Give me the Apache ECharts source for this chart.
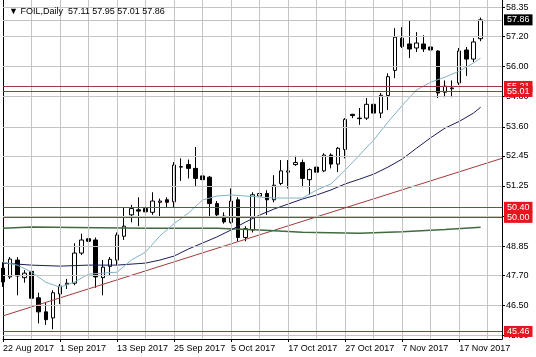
<!DOCTYPE html>
<html><head><meta charset="utf-8">
<script src="https://cdn.jsdelivr.net/npm/echarts@6/dist/echarts.min.js"></script>
<style>html,body{margin:0;padding:0;background:#fff}#c{width:536px;height:357px}</style>
</head><body><div id="c"></div>
<script>
const symbol = 'FOIL', timeframe = 'Daily';
const dates = ['22 Aug 2017','23 Aug 2017','24 Aug 2017','25 Aug 2017','28 Aug 2017','29 Aug 2017','30 Aug 2017','31 Aug 2017',
 '1 Sep 2017','4 Sep 2017','5 Sep 2017','6 Sep 2017','7 Sep 2017','8 Sep 2017','11 Sep 2017','12 Sep 2017',
 '13 Sep 2017','14 Sep 2017','15 Sep 2017','18 Sep 2017','19 Sep 2017','20 Sep 2017','21 Sep 2017','22 Sep 2017',
 '25 Sep 2017','26 Sep 2017','27 Sep 2017','28 Sep 2017','29 Sep 2017','2 Oct 2017','3 Oct 2017','4 Oct 2017',
 '5 Oct 2017','6 Oct 2017','9 Oct 2017','10 Oct 2017','11 Oct 2017','12 Oct 2017','13 Oct 2017','16 Oct 2017',
 '17 Oct 2017','18 Oct 2017','19 Oct 2017','20 Oct 2017','23 Oct 2017','24 Oct 2017','25 Oct 2017','26 Oct 2017',
 '27 Oct 2017','30 Oct 2017','31 Oct 2017','1 Nov 2017','2 Nov 2017','3 Nov 2017','5 Nov 2017','6 Nov 2017',
 '7 Nov 2017','8 Nov 2017','9 Nov 2017','10 Nov 2017','13 Nov 2017','14 Nov 2017','15 Nov 2017','16 Nov 2017',
 '17 Nov 2017','20 Nov 2017','21 Nov 2017','22 Nov 2017'];
const opens  = [47.98,47.63,48.30,47.60,47.85,46.80,46.24,46.00,46.95,47.33,47.38,48.58,49.15,49.10,47.60,48.05,
 48.30,49.25,50.10,50.30,50.35,50.20,50.60,50.70,50.62,52.00,52.10,51.95,51.65,51.60,50.55,50.05,
 49.80,50.70,49.20,49.50,50.85,50.95,50.70,51.35,51.80,52.10,52.18,51.50,52.00,51.85,52.48,52.12,
 52.70,54.10,53.95,53.95,54.50,54.15,54.85,55.85,57.13,56.90,56.74,56.90,56.78,56.62,54.98,55.12,
 55.35,56.66,56.30,57.11];
const highs  = [48.22,48.42,48.42,47.90,48.10,47.00,46.60,47.10,47.35,47.55,48.97,49.35,49.22,49.20,48.30,48.42,
 49.40,50.40,50.50,50.80,50.75,51.00,50.75,50.80,52.20,52.35,52.30,52.80,51.68,51.65,50.65,50.20,
 51.15,50.80,49.65,51.00,51.35,51.08,51.68,52.28,52.28,52.45,52.30,51.95,52.18,52.55,52.55,52.80,
 53.95,54.12,54.35,54.75,55.15,54.95,55.73,57.53,57.57,57.85,57.37,57.25,57.13,56.65,55.45,55.45,
 56.74,56.78,57.13,57.95];
const lows   = [47.23,47.55,46.90,47.40,46.70,45.78,45.72,45.55,46.55,47.15,47.30,48.50,48.63,47.20,46.90,47.68,
 48.10,49.10,49.80,49.65,49.70,50.10,50.05,50.40,50.40,51.45,51.55,51.25,51.30,50.00,49.97,49.75,
 49.75,49.05,49.05,49.40,50.50,50.10,50.60,51.28,51.15,52.05,51.20,50.90,51.60,51.80,51.95,51.80,
 52.35,53.95,53.68,53.88,53.80,53.95,54.27,55.54,56.74,56.34,56.58,56.58,56.22,54.75,54.78,54.78,
 55.27,55.63,56.18,57.01];
const closes = [47.43,48.34,47.67,47.78,46.78,46.24,45.93,47.00,47.27,47.38,48.58,49.10,49.05,47.63,48.02,48.33,
 49.30,49.65,50.35,50.25,50.22,50.65,50.65,50.60,52.08,52.02,51.95,51.55,51.50,50.55,50.10,49.82,
 50.65,49.20,49.55,50.90,50.95,50.70,51.28,51.85,51.85,52.18,51.55,51.90,51.80,52.48,52.12,52.75,
 53.90,54.05,53.93,54.50,54.15,54.86,55.60,57.17,56.80,56.70,56.94,56.70,56.66,54.95,55.22,55.15,
 56.62,56.30,56.98,57.86];
const _ = null;
const maFast = [48.22,_,48.10,_,47.82,_,47.42,_,47.22,_,47.42,_,47.74,_,47.78,_,47.82,_,48.30,_,48.62,_,49.26,_,
 49.75,_,50.17,_,50.69,_,50.85,_,50.89,_,50.85,_,50.81,_,50.77,_,50.77,_,50.77,_,51.09,_,51.33,_,
 51.88,_,52.48,_,53.08,_,53.79,_,54.45,_,55.07,_,55.38,_,55.58,_,55.82,_,56.14,56.34];
const maMid = [48.18,_,_,_,48.10,_,_,_,48.06,_,_,_,48.10,_,_,_,48.10,_,_,_,48.18,_,48.30,_,
 48.46,_,48.74,_,48.98,_,49.22,_,49.50,_,49.81,_,50.09,_,50.33,_,50.53,_,50.73,_,50.89,_,51.09,_,
 51.33,_,51.52,_,51.72,_,52.00,_,52.32,_,52.75,_,53.17,_,53.55,_,53.82,_,54.15,54.38];
const maSlow = [49.57,_,_,_,49.62,_,_,_,_,_,49.60,_,_,_,_,_,_,_,_,_,49.57,_,_,_,
 _,_,_,_,_,_,49.57,_,_,_,_,_,49.50,_,_,_,_,_,49.41,_,_,_,_,_,
 _,_,49.37,_,_,_,_,_,49.43,_,_,_,_,_,49.52,_,_,_,_,49.61];
const levels = [55.21, 55.01, 50.40, 50.00, 45.46];
const trendStart = 46.08, trendEnd = 52.35;
const yTicks = [45.30,46.50,47.70,48.85,50.05,51.25,52.45,53.60,54.80,56.00,57.20,58.35];
const padCats = [' ', '  ', '   '];

const cats = dates.concat(padCats);
const last = dates.length - 1;
const FONT = 'Liberation Sans';
const GRIDC = '#c4c4c4';
const YMIN = 45.16, YMAX = 58.65;
const chart = echarts.init(document.getElementById('c'), null, {renderer: 'canvas'});
const lineBase = {type: 'line', showSymbol: false, symbol: 'none', connectNulls: true, silent: true, animation: false};
const boxLabel = bg => ({show: true, position: 'end', distance: 2, formatter: p => p.value.toFixed(2),
  backgroundColor: bg, color: '#fff', fontSize: 9, fontFamily: FONT, padding: [1, 3, 0, 3], lineHeight: 10});
const noLabel = {show: false};
const gridStyle = {color: GRIDC, width: 1, type: 'solid'};
const gridMarks = yTicks.map(v => ({yAxis: v, lineStyle: gridStyle, label: noLabel}))
  .concat(cats.map((c, i) => i).filter(i => i % 4 === 0 && i > 0)
    .map(i => [{coord: [i, YMIN], lineStyle: gridStyle, label: noLabel}, {coord: [i, YMAX]}]));
chart.setOption({
  animation: false,
  backgroundColor: '#fff',
  title: {
    text: '\u25BC ' + symbol + ',' + timeframe + '  ' + [opens[last], highs[last], lows[last], closes[last]].map(v => v.toFixed(2)).join(' '),
    left: 4, top: 2,
    textStyle: {fontSize: 9, fontWeight: 'normal', color: '#000', fontFamily: FONT}
  },
  grid: {left: 3, right: 34, top: 0, bottom: 18},
  xAxis: {
    type: 'category', data: cats, boundaryGap: false,
    axisLine: {lineStyle: {color: '#000'}},
    axisTick: {interval: 7, length: 3, lineStyle: {color: '#000'}},
    axisLabel: {interval: 7, align: 'left', fontSize: 9, color: '#000', margin: 5, fontFamily: FONT},
    splitLine: {show: false}
  },
  yAxis: [{
    type: 'value', position: 'right', min: YMIN, max: YMAX,
    axisLine: {show: true, lineStyle: {color: '#000'}},
    axisTick: {show: true, customValues: yTicks, length: 3, lineStyle: {color: '#000'}},
    axisLabel: {customValues: yTicks, formatter: v => v.toFixed(2), fontSize: 9, color: '#000', margin: 4, fontFamily: FONT},
    splitLine: {show: false}
  }, {
    type: 'value', position: 'left', min: YMIN, max: YMAX,
    axisLine: {show: true, onZero: false, lineStyle: {color: '#000'}},
    axisTick: {show: false}, axisLabel: {show: false}, splitLine: {show: false}
  }],
  series: [
    {
      type: 'candlestick', barWidth: 4, silent: true, z: 3,
      data: dates.map((d, i) => [opens[i], closes[i], lows[i], highs[i]]),
      itemStyle: {color: '#fff', color0: '#000', borderColor: '#000', borderColor0: '#000', borderWidth: 1},
      markLine: {
        silent: true, symbol: 'none', animation: false,
        data: gridMarks.concat(levels.map(v => ({
          yAxis: v,
          lineStyle: {color: '#a03a3a', width: 1, type: 'solid'},
          label: boxLabel('#e8141e')
        }))).concat([{
          yAxis: closes[last],
          lineStyle: {color: '#c0c0c0', width: 1, type: 'solid'},
          label: boxLabel('#000')
        }])
      }
    },
    Object.assign({}, lineBase, {name: 'trend', z: 4, data: [[0, trendStart], [cats.length - 1, trendEnd]], lineStyle: {color: '#a03a3a', width: 1}}),
    Object.assign({}, lineBase, {name: 'slow', z: 4, data: maSlow, lineStyle: {color: '#3f6b3f', width: 1.5}}),
    Object.assign({}, lineBase, {name: 'mid', z: 4, data: maMid, lineStyle: {color: '#1c1c5c', width: 1}}),
    Object.assign({}, lineBase, {name: 'fast', z: 4, data: maFast, lineStyle: {color: '#7fb4c4', width: 1}})
  ]
});
</script></body></html>
